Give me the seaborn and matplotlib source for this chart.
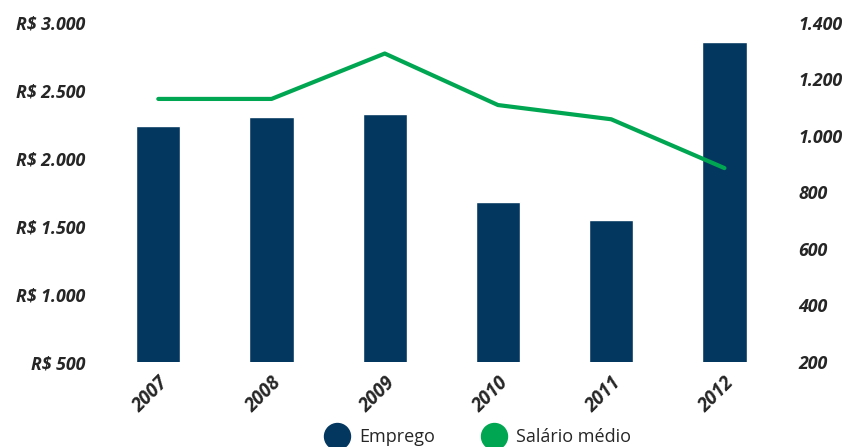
import matplotlib
matplotlib.use("Agg")
import matplotlib.pyplot as plt
from matplotlib.lines import Line2D
import seaborn as sns
import pandas as pd

years = ["2007", "2008", "2009", "2010", "2011", "2012"]
emprego = [1035, 1067, 1077, 765, 701, 1333]
salario = [2440, 2440, 2775, 2395, 2290, 1930]
left_ticks = [500, 1000, 1500, 2000, 2500, 3000]
left_labels = ["R$ 500", "R$ 1.000", "R$ 1.500", "R$ 2.000", "R$ 2.500", "R$ 3.000"]
right_ticks = [200, 400, 600, 800, 1000, 1200, 1400]
right_labels = ["200", "400", "600", "800", "1.000", "1.200", "1.400"]

BAR = "#03375f"
LINE = "#00a651"
FS = 12.8

sns.set_theme(style="white")
plt.rcParams["font.family"] = ["Open Sans", "DejaVu Sans"]

df = pd.DataFrame({"ano": years, "emprego": emprego, "salario": salario})

fig = plt.figure(figsize=(8.48, 4.47), dpi=100)
ax = fig.add_axes([113 / 848, 1 - 362 / 447, (772 - 113) / 848, (362 - 23) / 447])
ax2 = ax.twinx()

sns.barplot(data=df, x="ano", y="emprego", color=BAR, width=0.39, ax=ax, saturation=1)
sns.lineplot(data=df, x="ano", y="salario", color=LINE, linewidth=3, ax=ax2, sort=False)

ax.set_ylim(200, 1400)
ax2.set_ylim(500, 3000)

ax.yaxis.tick_right()
ax.set_yticks(right_ticks)
ax.set_yticklabels(right_labels, fontweight="bold", fontstyle="italic", fontsize=FS)
ax.tick_params(axis="y", which="both", left=False, right=True, labelleft=False, labelright=True,
               length=0, pad=19)

ax2.yaxis.tick_left()
ax2.set_yticks(left_ticks)
ax2.set_yticklabels(left_labels, fontweight="bold", fontstyle="italic", fontsize=FS)
ax2.tick_params(axis="y", which="both", left=True, right=False, labelleft=True, labelright=False,
                length=0, pad=20)

ax.set_xlim(-0.4, 5.42)
ax.set_xticks(range(len(years)))
ax.set_xticklabels(years, rotation=45, ha="right", rotation_mode="anchor",
                   fontweight="bold", fontstyle="italic", fontsize=13.5)
ax.tick_params(axis="x", length=0, pad=8)

for a in (ax, ax2):
    a.set_xlabel("")
    a.set_ylabel("")
    for s in a.spines.values():
        s.set_visible(False)
    a.grid(False)

handles = [
    Line2D([0], [0], marker="o", linestyle="none", markersize=18.7, markerfacecolor=BAR, markeredgecolor=BAR),
    Line2D([0], [0], marker="o", linestyle="none", markersize=18.7, markerfacecolor=LINE, markeredgecolor=LINE),
]
fig.legend(handles, ["Emprego", "Salário médio"], loc="center", bbox_to_anchor=(475 / 848, 1 - 437 / 447),
           ncol=2, frameon=False, fontsize=13, handletextpad=0.2, columnspacing=2.3,
           borderpad=0, borderaxespad=0)

fig.savefig("out.png", dpi=100)
